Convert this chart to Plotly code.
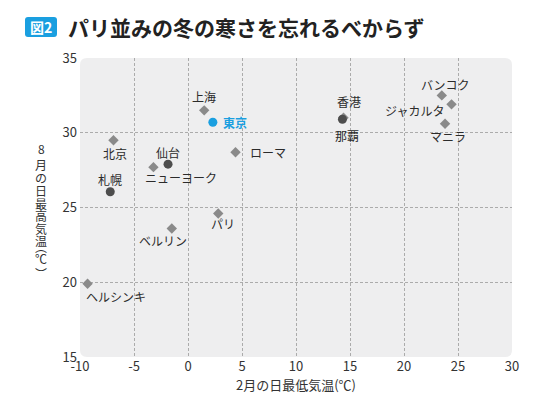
import plotly.graph_objects as go

# ---- data ----
foreign_cities = ["北京", "上海", "ニューヨーク", "ローマ", "パリ", "ベルリン", "ヘルシンキ",
                  "香港", "バンコク", "ジャカルタ", "マニラ"]
foreign_feb_min = [-6.9, 1.5, -3.2, 4.4, 2.8, -1.5, -9.3, 14.4, 23.5, 24.4, 23.8]
foreign_aug_max = [29.5, 31.5, 27.7, 28.7, 24.6, 23.6, 19.9, 31.0, 32.5, 31.9, 30.6]

japan_cities = ["札幌", "仙台", "那覇"]
japan_feb_min = [-7.2, -1.85, 14.3]
japan_aug_max = [26.05, 27.9, 30.9]

tokyo_city = ["東京"]
tokyo_feb_min = [2.3]
tokyo_aug_max = [30.7]

x_ticks = [-10, -5, 0, 5, 10, 15, 20, 25, 30]
y_ticks = [15, 20, 25, 30, 35]

title_text = "パリ並みの冬の寒さを忘れるべからず"
badge_text = "図2"
x_title = "2月の日最低気温(℃)"
y_title_chars = ["8", "月", "の", "日", "最", "高", "気", "温", "︵", "℃", "︶"]

# ---- label placement (pixel offsets, style only) ----
label_offsets = {
    "北京": (2, -13, "center"), "上海": (0, 14, "center"), "ニューヨーク": (28, -10, "center"),
    "ローマ": (12, 0, "left"), "パリ": (5, -10, "center"), "ベルリン": (-9, -12, "center"),
    "ヘルシンキ": (-4, -13, "left"), "香港": (5, 16, "center"), "バンコク": (4, 11, "center"),
    "ジャカルタ": (-6, -6, "right"), "マニラ": (3, -13, "center"),
    "札幌": (0, 12, "center"), "仙台": (0, 12, "center"), "那覇": (5, -16, "center"),
    "東京": (8, 0, "left"),
}

FONT = "Noto Sans CJK JP"
W, H = 550, 399
L, R, T, B = 80, 38, 58, 42
PW, PH = W - L - R, H - T - B

fig = go.Figure()
fig.add_trace(go.Scatter(x=foreign_feb_min, y=foreign_aug_max, mode="markers",
                         marker=dict(symbol="diamond", size=8, color="#8a8a8a"),
                         hoverinfo="skip"))
fig.add_trace(go.Scatter(x=japan_feb_min, y=japan_aug_max, mode="markers",
                         marker=dict(symbol="circle", size=9, color="#4d4d4d"),
                         hoverinfo="skip"))
fig.add_trace(go.Scatter(x=tokyo_feb_min, y=tokyo_aug_max, mode="markers",
                         marker=dict(symbol="circle", size=9, color="#1a9fe0"),
                         hoverinfo="skip"))

annotations = []
for names, xs, ys in [(foreign_cities, foreign_feb_min, foreign_aug_max),
                      (japan_cities, japan_feb_min, japan_aug_max),
                      (tokyo_city, tokyo_feb_min, tokyo_aug_max)]:
    for n, xv, yv in zip(names, xs, ys):
        dx, dy, anc = label_offsets[n]
        is_tokyo = n in tokyo_city
        annotations.append(dict(
            x=xv, y=yv, xref="x", yref="y", text=f"<b>{n}</b>" if is_tokyo else n,
            showarrow=False, xshift=dx, yshift=dy, xanchor=anc, yanchor="middle",
            font=dict(family=FONT, size=12, color="#1a9fe0" if is_tokyo else "#2b2b2b")))

# vertical y-axis title (stacked characters)
y_positions = [148, 164, 177, 190, 203, 215, 228, 240, 246, 258, 273]
for ch, yp in zip(y_title_chars, y_positions):
    annotations.append(dict(x=0, y=1, xref="paper", yref="paper", text=ch, showarrow=False,
                            xanchor="center", yanchor="middle", xshift=41 - L, yshift=-(yp - T),
                            font=dict(family=FONT, size=12, color="#333")))

# title
annotations.append(dict(x=0, y=1, xref="paper", yref="paper", text=f"<b>{title_text}</b>",
                        showarrow=False, xanchor="left", yanchor="middle",
                        xshift=66 - L, yshift=T - 27,
                        font=dict(family=FONT, size=21, color="#222")))
annotations.append(dict(x=0, y=1, xref="paper", yref="paper", text=f"<b>{badge_text}</b>",
                        showarrow=False, xanchor="center", yanchor="middle",
                        xshift=41 - L, yshift=T - 27,
                        font=dict(family=FONT, size=14, color="white")))


def px2paper(px, py):
    return (px - L) / PW, (H - B - py) / PH


def rounded_rect(x0, y0, x1, y1, r):
    def P(a, b):
        u, v = px2paper(a, b)
        return f"{u:.5f},{v:.5f}"
    return (f"M {P(x0 + r, y0)} L {P(x1 - r, y0)} Q {P(x1, y0)} {P(x1, y0 + r)} "
            f"L {P(x1, y1 - r)} Q {P(x1, y1)} {P(x1 - r, y1)} L {P(x0 + r, y1)} "
            f"Q {P(x0, y1)} {P(x0, y1 - r)} L {P(x0, y0 + r)} Q {P(x0, y0)} {P(x0 + r, y0)} Z")


shapes = [
    dict(type="path", xref="paper", yref="paper", layer="below",
         path=rounded_rect(L, T, W - R, H - B, 7), fillcolor="#eeeeef", line=dict(width=0)),
    dict(type="path", xref="paper", yref="paper", layer="above",
         path=rounded_rect(25, 17, 57, 37, 3), fillcolor="#1a9fe0", line=dict(width=0)),
]

fig.update_layout(
    width=W, height=H, margin=dict(l=L, r=R, t=T, b=B),
    paper_bgcolor="white", plot_bgcolor="rgba(0,0,0,0)",
    showlegend=False, font=dict(family=FONT, color="#333"),
    annotations=annotations, shapes=shapes,
    xaxis=dict(range=[-10, 30], tickvals=x_ticks, ticktext=[str(v) for v in x_ticks],
               showgrid=True, gridcolor="#ababab", griddash="3px,2px", gridwidth=1,
               zeroline=False, showline=False, ticks="", tickfont=dict(size=13, color="#333"),
               title=dict(text=x_title, font=dict(size=13, color="#333"), standoff=4)),
    yaxis=dict(range=[15, 35], tickvals=y_ticks, ticktext=[str(v) for v in y_ticks],
               showgrid=True, gridcolor="#ababab", griddash="3px,2px", gridwidth=1,
               zeroline=False, showline=False, ticks="", ticklabelstandoff=2,
               tickfont=dict(size=13, color="#333")),
)

fig.write_html("out.html", config={"displayModeBar": False},
               post_script="document.body.style.margin='0';document.body.style.padding='0';")
